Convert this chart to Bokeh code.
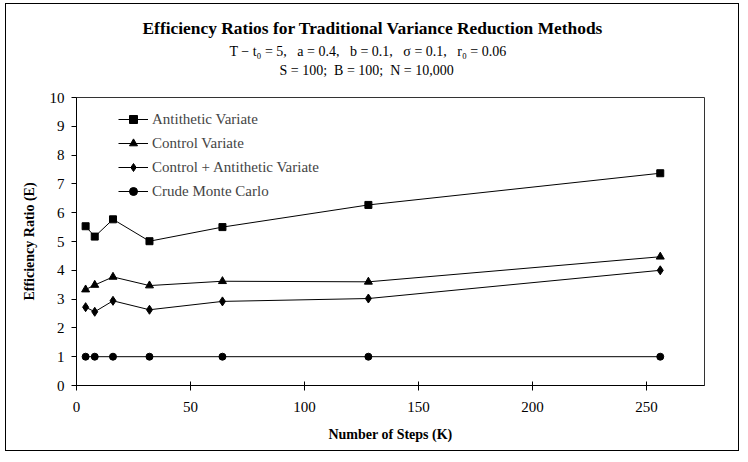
from bokeh.plotting import figure
from bokeh.models import Range1d, FixedTicker, Legend, LegendItem, Title
from bokeh.embed import file_html
from bokeh.resources import INLINE

# ---- data ----
steps = [4, 8, 16, 32, 64, 128, 256]
antithetic = [5.53, 5.17, 5.77, 5.01, 5.50, 6.27, 7.37]
control = [3.33, 3.49, 3.77, 3.47, 3.62, 3.60, 4.47]
control_anti = [2.72, 2.56, 2.94, 2.63, 2.92, 3.02, 4.00]
crude = [1.0, 1.0, 1.0, 1.0, 1.0, 1.0, 1.0]

series_names = ["Antithetic Variate", "Control Variate",
                "Control + Antithetic Variate", "Crude Monte Carlo"]
x_ticks = [0, 50, 100, 150, 200, 250]
y_ticks = [0, 1, 2, 3, 4, 5, 6, 7, 8, 9, 10]

SEP = ", \u00a0\u00a0"
title_text = "Efficiency Ratios for Traditional Variance Reduction Methods"
sub1_text = SEP.join(["T \u2212 t\u2080 = 5", "a = 0.4", "b = 0.1", "\u03c3 = 0.1", "r\u2080 = 0.06"])
sub2_text = ";\u00a0 ".join(["S = 100", "B = 100", "N = 10,000"])
x_label = "Number of Steps (K)"
y_label = "Efficiency Ratio (E)"

FONT = "Liberation Serif"

p = figure(width=734, height=448, output_backend="svg", toolbar_location=None,
           x_range=Range1d(0, 275.4), y_range=Range1d(0, 10),
           min_border_left=70, min_border_right=36,
           min_border_top=93, min_border_bottom=67,
           margin=(3, 0, 0, 5),
           styles={"border": "1px solid #000000"},
           background_fill_color="white", border_fill_color="white")

p.title.visible = False
p.xgrid.visible = False
p.ygrid.visible = False
p.outline_line_color = "#333333"
p.outline_line_width = 1

p.xaxis.ticker = FixedTicker(ticks=x_ticks)
p.yaxis.ticker = FixedTicker(ticks=y_ticks)
for ax in (p.xaxis, p.yaxis):
    ax.axis_line_color = "black"
    ax.major_tick_line_color = "black"
    ax.minor_tick_line_color = None
    ax.major_label_text_font = FONT
    ax.major_label_text_font_size = "15px"
    ax.major_label_text_color = "black"
    ax.axis_label_text_font = FONT
    ax.axis_label_text_font_size = "14px"
    ax.axis_label_text_font_style = "bold"
    ax.axis_label_text_color = "black"

p.xaxis.major_tick_in = 4
p.xaxis.major_tick_out = 5
p.yaxis.major_tick_in = 0
p.yaxis.major_tick_out = 5
p.xaxis.major_label_standoff = 11
p.yaxis.major_label_standoff = 7
p.xaxis.axis_label = x_label
p.yaxis.axis_label = y_label
p.xaxis.axis_label_standoff = 12
p.yaxis.axis_label_standoff = 10

renderers = []
specs = [
    (antithetic, dict(marker="square", size=7)),
    (control, dict(marker="triangle", size=8)),
    (control_anti, dict(marker="diamond", size=9)),
    (crude, dict(marker="circle", size=7)),
]
for ys, mk in specs:
    l = p.line(steps, ys, line_color="black", line_width=1)
    s = p.scatter(steps, ys, fill_color="black", line_color="black", line_width=1, **mk)
    renderers.append([l, s])

legend = Legend(items=[LegendItem(label=n, renderers=r) for n, r in zip(series_names, renderers)],
                location=(42, 184), padding=0, margin=0, spacing=4,
                glyph_width=30, glyph_height=20, label_height=20, label_standoff=4,
                label_text_font=FONT, label_text_font_size="15px",
                border_line_color=None, background_fill_alpha=0)
p.add_layout(legend, "center")

# titles stacked above the frame (first added = nearest the frame)
p.add_layout(Title(text=" ", text_font=FONT, text_font_size="14px", standoff=2), "above")
p.add_layout(Title(text=sub2_text, text_font=FONT, text_font_size="14px", text_color="black",
                   text_font_style="normal", align="left", offset=203, standoff=2), "above")
p.add_layout(Title(text=sub1_text, text_font=FONT, text_font_size="14px", text_color="black",
                   text_font_style="normal", align="left", offset=153, standoff=2), "above")
p.add_layout(Title(text=title_text, text_font=FONT, text_font_size="17.4px", text_color="black",
                   text_font_style="bold", align="left", offset=66, standoff=6), "above")

open("out.html", "w").write(file_html(p, INLINE))
